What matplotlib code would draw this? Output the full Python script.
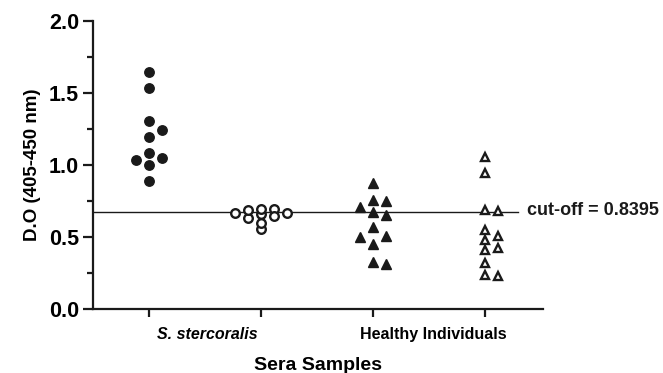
import numpy as np
import matplotlib
matplotlib.use("Agg")
import matplotlib.pyplot as plt

plt.rcParams['font.family'] = ['Liberation Sans', 'DejaVu Sans']
plt.rcParams['font.weight'] = 'bold'

# valores (D.O 405-450 nm)
col1_filled_circles = [1.646, 1.530, 1.303, 1.243, 1.192, 1.079, 1.049, 1.030, 0.996, 0.885]
col2_open_circles = [0.667, 0.655, 0.632, 0.690, 0.646, 0.553, 0.694, 0.667, 0.595, 0.685]
col3_filled_tri = [0.875, 0.755, 0.708, 0.748, 0.674, 0.651, 0.565, 0.500, 0.503, 0.451, 0.308, 0.322]
col4_open_tri = [1.051, 0.940, 0.685, 0.678, 0.505, 0.547, 0.477, 0.424, 0.408, 0.315, 0.227, 0.234]

group_labels = ['S. stercoralis', 'Healthy Individuals']
cutoff_line = 0.67
cutoff_text = 'cut-off = 0.8395'
y_ticks = [0.0, 0.5, 1.0, 1.5, 2.0]

ink = '#1a1a1a'

fig = plt.figure(figsize=(6.63, 3.73), dpi=100)
ax = fig.add_axes([0.1403, 0.1724, 0.6787, 0.7721])
ax.set_xlim(0.5, 4.52)
ax.set_ylim(0, 2.0)

# escala em pixels para montar o "swarm" (pontos espalhados em colunas)
pos = ax.get_position()
xpx = pos.width * 6.63 * 100 / (4.52 - 0.5)
ypx = pos.height * 3.73 * 100 / 2.0


def swarm(vals, w=13, t=9.5):
    vals = np.asarray(vals)
    slots = np.zeros(len(vals))
    placed = []
    order = [0, 1, -1, 2, -2, 3, -3, 4, -4]
    for i in np.argsort(-vals, kind='stable'):
        y = vals[i] * ypx
        for s in order:
            if all(not (ss == s and abs(y - yy) < t) for ss, yy in placed):
                slots[i] = s
                break
        placed.append((slots[i], y))
    return slots * w / xpx


series = [
    (col1_filled_circles, 9.5, dict(marker='o', ms=6.8, mfc=ink, mec=ink, mew=1)),
    (col2_open_circles, 5, dict(marker='o', ms=6.2, mfc='white', mec=ink, mew=1.7)),
    (col3_filled_tri, 9.5, dict(marker='^', ms=7.5, mfc=ink, mec=ink, mew=1)),
    (col4_open_tri, 9.5, dict(marker='^', ms=6.3, mfc='white', mec=ink, mew=1.7)),
]

ax.plot([0.5, 4.30], [cutoff_line, cutoff_line], color=ink, lw=1.0, zorder=1)

for k, (vals, t, style) in enumerate(series):
    xs = (k + 1) + swarm(vals, 13, t)
    ax.plot(xs, vals, ls='none', zorder=3, clip_on=False, **style)

ax.text(4.38, cutoff_line + 0.01, cutoff_text, fontsize=13, fontweight='bold',
        color=ink, va='center', ha='left')

for s in ['top', 'right']:
    ax.spines[s].set_visible(False)
for s in ['left', 'bottom']:
    ax.spines[s].set_linewidth(1.6)
    ax.spines[s].set_color(ink)

ax.set_yticks(y_ticks)
ax.set_yticklabels(['%.1f' % v for v in y_ticks], fontsize=15.5, fontweight='bold')
ax.set_yticks(np.arange(0.25, 2.0, 0.5), minor=True)
ax.tick_params(axis='y', which='major', length=7, width=1.6, color=ink, pad=3)
ax.tick_params(axis='y', which='minor', length=4.5, width=1.6, color=ink)

ax.set_xticks([1, 2, 3, 4])
ax.set_xticklabels([])
ax.set_xticks([1.52, 3.54], minor=True)
ax.set_xticklabels(group_labels, minor=True, fontsize=11.5, fontweight='bold')
ax.get_xticklabels(minor=True)[0].set_fontstyle('italic')
ax.tick_params(axis='x', which='major', length=6, width=1.6, color=ink)
ax.tick_params(axis='x', which='minor', length=0, pad=13)

ax.set_ylabel('D.O (405-450 nm)', fontsize=13.5, fontweight='bold', labelpad=6)
ax.set_xlabel('Sera Samples', fontsize=14, fontweight='bold', labelpad=11)

fig.savefig('out.png', dpi=100)
